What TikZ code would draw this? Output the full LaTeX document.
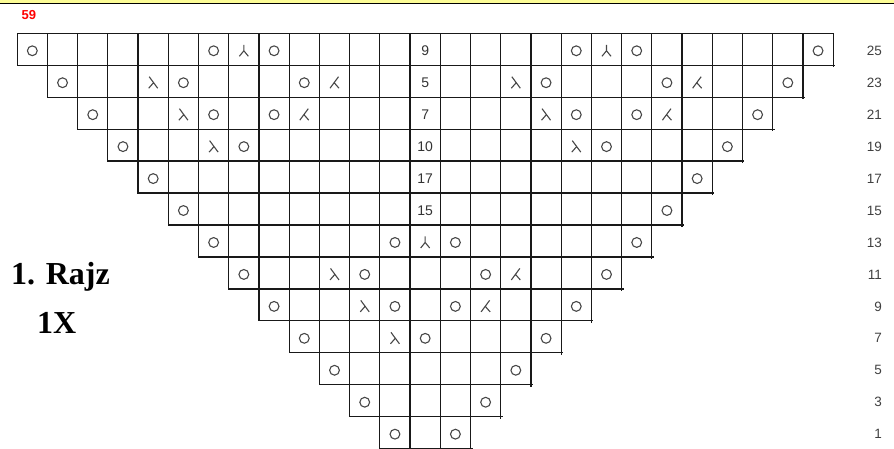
\documentclass[tikz,border=0pt]{standalone}
\usepackage{fontspec}
\setmainfont{Liberation Sans}
\newfontfamily\rajzfont{Liberation Serif}
\definecolor{band}{RGB}{252,252,150}
\begin{document}
\begin{tikzpicture}[x=1pt,y=-1pt,
  gridline/.style={draw=black!90, line width=1.2pt},
  symline/.style={draw=black!72, line width=1.1pt},
  yo/.pic={\draw[symline] (0pt,-1.5pt) circle[radius=4.9pt];},
  lam/.pic={\draw[symline] (-4pt,4.5pt) -- (4.5pt,-7pt) (0.6pt,-1.2pt) -- (-4.5pt,-7pt);},
  mlam/.pic={\draw[symline] (4pt,4.5pt) -- (-4.5pt,-7pt) (-0.6pt,-1.2pt) -- (4.5pt,-7pt);},
  tri/.pic={\draw[symline] (0pt,4.5pt) -- (0pt,-1.5pt) -- (-4.5pt,-7pt) (0pt,-1.5pt) -- (4.5pt,-7pt);},
  cnum/.style={font=\fontsize{14}{14}\selectfont, text=black!80, inner sep=0pt, yshift=-1.5pt},
  rlab/.style={font=\fontsize{13.5}{14}\selectfont, text=black!75, inner sep=0pt, anchor=east},
  big/.style={anchor=base west, inner sep=0pt, font=\rajzfont\bfseries\fontsize{32}{32}\selectfont},
]
\useasboundingbox (0,0) rectangle (894,449);
% top band
\fill[band] (0,0) rectangle (894,3.2);
\draw[black, line width=1.2pt] (0,3.6) -- (894,3.6);
\node[anchor=base west, inner sep=0pt, text=red, font=\fontsize{13}{13}\selectfont\bfseries] (num) at (21.5,20) {59};
% labels on the left
\node[big] (rajz) at (11,284) {1. Rajz};
\node[big] (times) at (37,333) {1X};
% row numbers on the right
\foreach \r in {0,...,12}{
  \pgfmathtruncatemacro\lab{25-2*\r}
  \node[rlab] (row\lab) at (882,{33.3+(\r+0.5)*31.95+1.5}) {\lab};
}
\begin{scope}[shift={(17.2,33.3)}, x=30.22pt, y=-31.95pt]
  % grid
  \foreach \r in {0,...,12}{
    \pgfmathtruncatemacro\ra{\r+1}
    \pgfmathtruncatemacro\rb{27-\r}
    \draw[gridline] (\r,\r) rectangle (\rb,\ra);
    \draw[gridline] (\rb,\ra) -- ++(2pt,0pt) (\rb,\ra) -- ++(0pt,-2pt);
    \foreach \c in {\ra,...,26}{\ifnum\c<\rb\relax \draw[gridline] (\c,\r) -- (\c,\ra);\fi}
  }
  % yarn overs
  \foreach \c/\r in {0/0,6/0,8/0,18/0,20/0,26/0,
    1/1,5/1,9/1,17/1,21/1,25/1,
    2/2,6/2,8/2,18/2,20/2,24/2,
    3/3,7/3,19/3,23/3,
    4/4,22/4, 5/5,21/5,
    6/6,12/6,14/6,20/6,
    7/7,11/7,15/7,19/7,
    8/8,12/8,14/8,18/8,
    9/9,13/9,17/9,
    10/10,16/10, 11/11,15/11, 12/12,14/12}
    \pic at (\c+0.5,\r+0.5) {yo};
  % left decreases
  \foreach \c/\r in {4/1,16/1,5/2,17/2,6/3,18/3,10/7,11/8,12/9}
    \pic at (\c+0.5,\r+0.5) {lam};
  % right decreases
  \foreach \c/\r in {10/1,22/1,9/2,21/2,16/7,15/8}
    \pic at (\c+0.5,\r+0.5) {mlam};
  % double decreases
  \foreach \c/\r in {7/0,19/0,13/6}
    \pic at (\c+0.5,\r+0.5) {tri};
  % numbers in the centre column
  \node[cnum] (c25) at (13.5,0.5) {9};
  \node[cnum] (c23) at (13.5,1.5) {5};
  \node[cnum] (c21) at (13.5,2.5) {7};
  \node[cnum] (c19) at (13.5,3.5) {10};
  \node[cnum] (c17) at (13.5,4.5) {17};
  \node[cnum] (c15) at (13.5,5.5) {15};
\end{scope}
\end{tikzpicture}
\end{document}
